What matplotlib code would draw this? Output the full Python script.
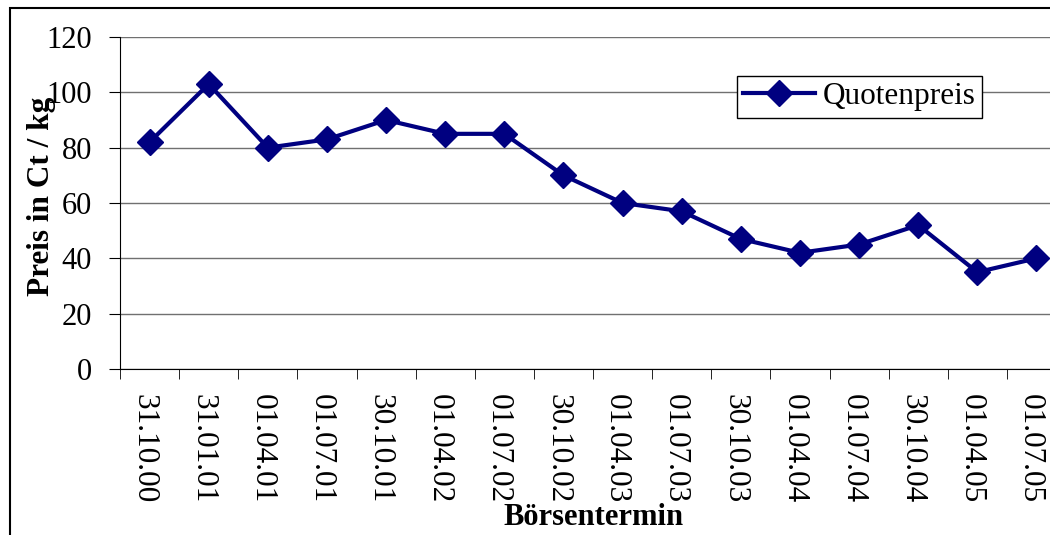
import matplotlib
matplotlib.use("Agg")
import matplotlib.pyplot as plt
from matplotlib.patches import Rectangle
from matplotlib.transforms import ScaledTranslation

termine = ["31.10.00", "31.01.01", "01.04.01", "01.07.01", "30.10.01", "01.04.02",
           "01.07.02", "30.10.02", "01.04.03", "01.07.03", "30.10.03", "01.04.04",
           "01.07.04", "30.10.04", "01.04.05", "01.07.05"]
quotenpreis = [82, 103, 80, 83, 90, 85, 85, 70, 60, 57, 47, 42, 45, 52, 35, 40]
y_ticks = [0, 20, 40, 60, 80, 100, 120]

plt.rcParams['font.family'] = ['Liberation Serif', 'DejaVu Serif']

W, H = 1050, 535
fig = plt.figure(figsize=(W / 100, H / 100), dpi=100)

# outer chart border (only left and top edges fall inside the image)
fig.patches.append(Rectangle((10 / W, -0.2), 2.0, (H - 8) / H + 0.2,
                             transform=fig.transFigure, fill=False,
                             edgecolor='black', lw=1.5, zorder=0))

ax = fig.add_axes([120 / W, 1 - 369 / H, 946 / W, 332 / H])
x = list(range(len(termine)))
ax.plot(x, quotenpreis, color='#000080', lw=3, marker='D', markersize=13,
        label='Quotenpreis', zorder=3, clip_on=False)

ax.set_xlim(-0.5, len(termine) - 0.5)
ax.set_ylim(0, 120)
ax.set_yticks(y_ticks)
ax.yaxis.grid(True, color='#707070', lw=1)
ax.set_axisbelow(True)
for s in ['top', 'right']:
    ax.spines[s].set_visible(False)
ax.spines['left'].set_color('black')
ax.spines['bottom'].set_color('black')

ax.set_xticks(x)
ax.set_xticklabels(termine, rotation=-90, fontsize=22.5, va='top', ha='center')
ax.set_xticks([i - 0.5 for i in range(len(termine) + 1)], minor=True)
ax.tick_params(axis='x', which='major', length=0, pad=18)
ax.tick_params(axis='x', which='minor', length=7, direction='out', color='black')
ax.tick_params(axis='y', length=8, direction='out', labelsize=22, pad=12, color='black')
# rotated labels sit a little left of the category centre
shift = ScaledTranslation(-6 / 100, 0, fig.dpi_scale_trans)
for lbl in ax.get_xticklabels():
    lbl.set_transform(lbl.get_transform() + shift)

ax.set_xlabel('Börsentermin', fontsize=22, fontweight='bold')
ax.xaxis.set_label_coords(0.5, -0.447)
ax.xaxis.label.set_va('center')
ax.set_ylabel('Preis in Ct / kg', fontsize=22.5, fontweight='bold')
ax.yaxis.set_label_coords(-0.068, 0.52)

leg = ax.legend(loc='upper left', bbox_to_anchor=(737 / W, 1 - 76 / H),
                bbox_transform=fig.transFigure, fontsize=22.5, frameon=True,
                fancybox=False, edgecolor='black', framealpha=1,
                handlelength=2.3, borderpad=0.2, handletextpad=0.25,
                borderaxespad=0)
leg.get_frame().set_linewidth(1)

fig.savefig('out.png', dpi=100)
